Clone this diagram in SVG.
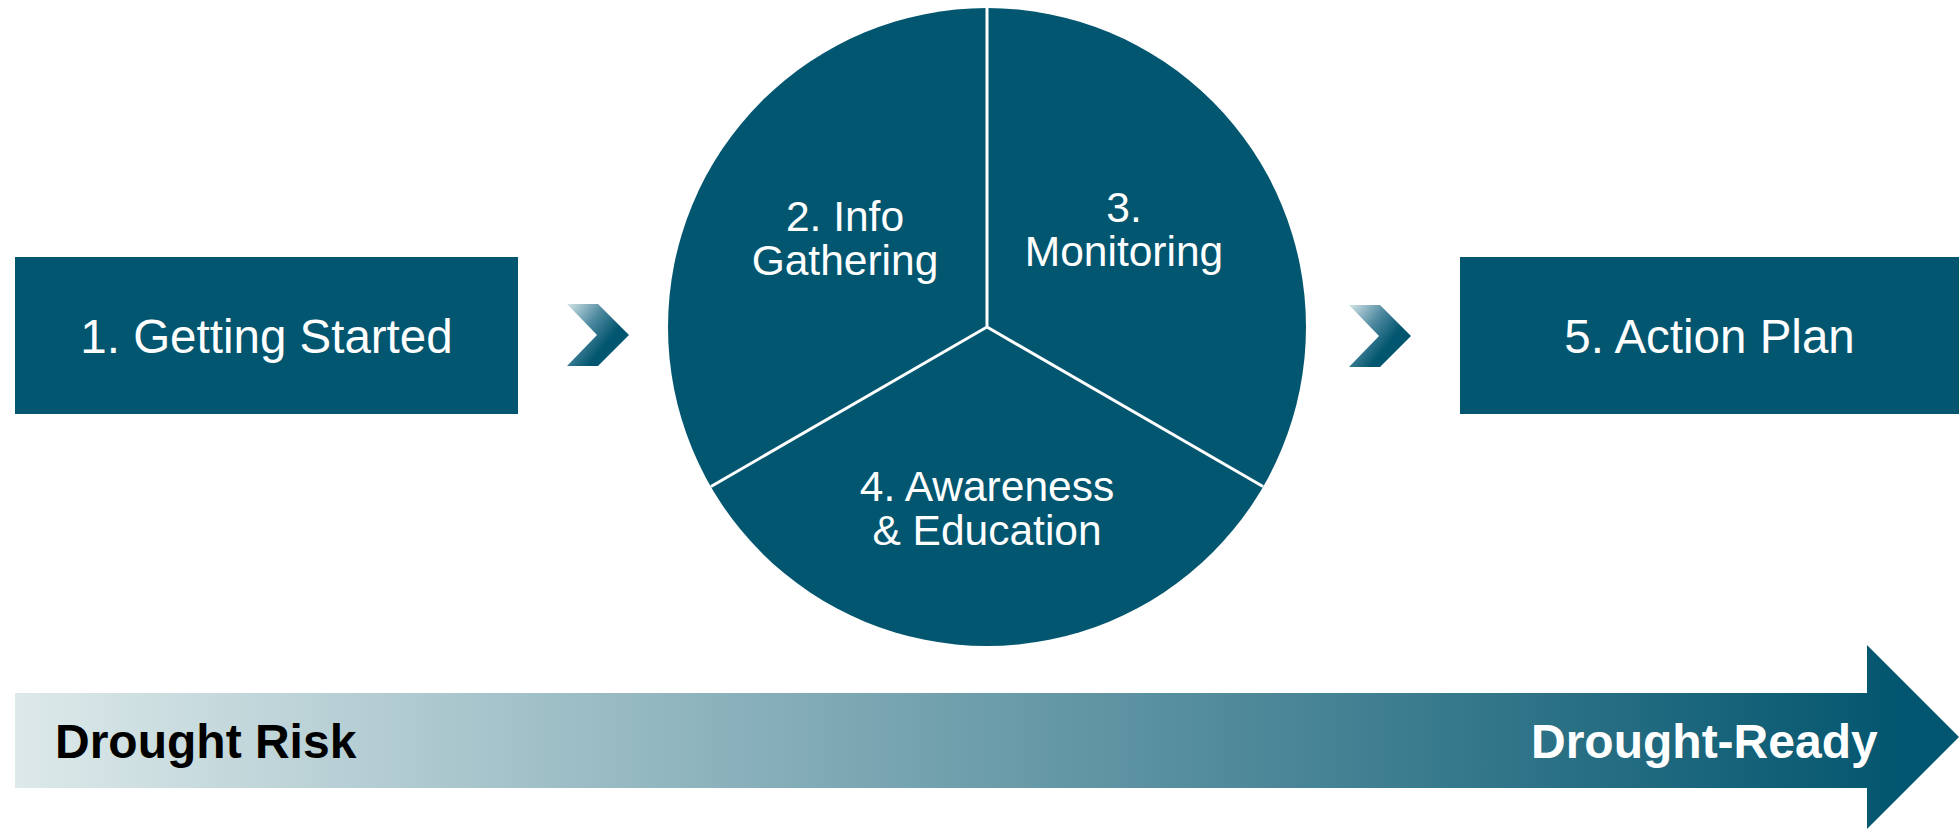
<svg xmlns="http://www.w3.org/2000/svg" width="1959" height="832" viewBox="0 0 1959 832">
<defs>
<style>
.node{fill:#03566f}
.lbl{font-family:"Liberation Sans",Arial,sans-serif;fill:#ffffff;text-anchor:middle}
.big{font-size:47.5px}
.mid{font-size:42.5px}
.bold{font-family:"Liberation Sans",Arial,sans-serif;font-weight:bold;font-size:48px}
.div{stroke:#ffffff;stroke-width:3;fill:none}
</style>
<linearGradient id="chev" gradientUnits="objectBoundingBox" x1="0" y1="0" x2="0.7" y2="0.55">
<stop offset="0" stop-color="#d4e5e9"/>
<stop offset="0.55" stop-color="#4f8aa0"/>
<stop offset="1" stop-color="#03566f"/>
</linearGradient>
<linearGradient id="bar" gradientUnits="userSpaceOnUse" x1="15" y1="0" x2="1900" y2="0">
<stop offset="0" stop-color="#dde9ea"/>
<stop offset="1" stop-color="#03566f"/>
</linearGradient>
</defs>
<rect width="1959" height="832" fill="#ffffff"/>

<g id="node1">
<rect class="node" x="15" y="257" width="503" height="157"/>
<text class="lbl big" x="266.5" y="353">1. Getting Started</text>
</g>

<g id="connectors">
<path fill="url(#chev)" d="M567,304 L598,304 L629,335 L598,366 L567,366 L597,335 Z"/>
<path fill="url(#chev)" d="M1349,305 L1380,305 L1411,336 L1380,367 L1349,367 L1379,336 Z"/>
</g>

<g id="cycle">
<circle class="node" cx="987" cy="327" r="319"/>
<path class="div" d="M987,8 L987,327 L711,486.5 M987,327 L1263,486.5"/>
</g>

<g id="node2">
<text class="lbl mid" x="845" y="231">2. Info</text>
<text class="lbl mid" x="845" y="275">Gathering</text>
</g>
<g id="node3">
<text class="lbl mid" x="1124" y="222">3.</text>
<text class="lbl mid" x="1124" y="266">Monitoring</text>
</g>
<g id="node4">
<text class="lbl mid" x="987" y="501">4. Awareness</text>
<text class="lbl mid" x="987" y="545">&amp; Education</text>
</g>

<g id="node5">
<rect class="node" x="1460" y="257" width="499" height="157"/>
<text class="lbl big" x="1709.5" y="353">5. Action Plan</text>
</g>

<g id="progress">
<path fill="url(#bar)" d="M15,693 L1867,693 L1867,645 L1959,737 L1867,829 L1867,788 L15,788 Z"/>
<text class="bold" x="55" y="758" fill="#000000">Drought Risk</text>
<text class="bold" x="1531" y="758" fill="#ffffff">Drought-Ready</text>
</g>
</svg>
